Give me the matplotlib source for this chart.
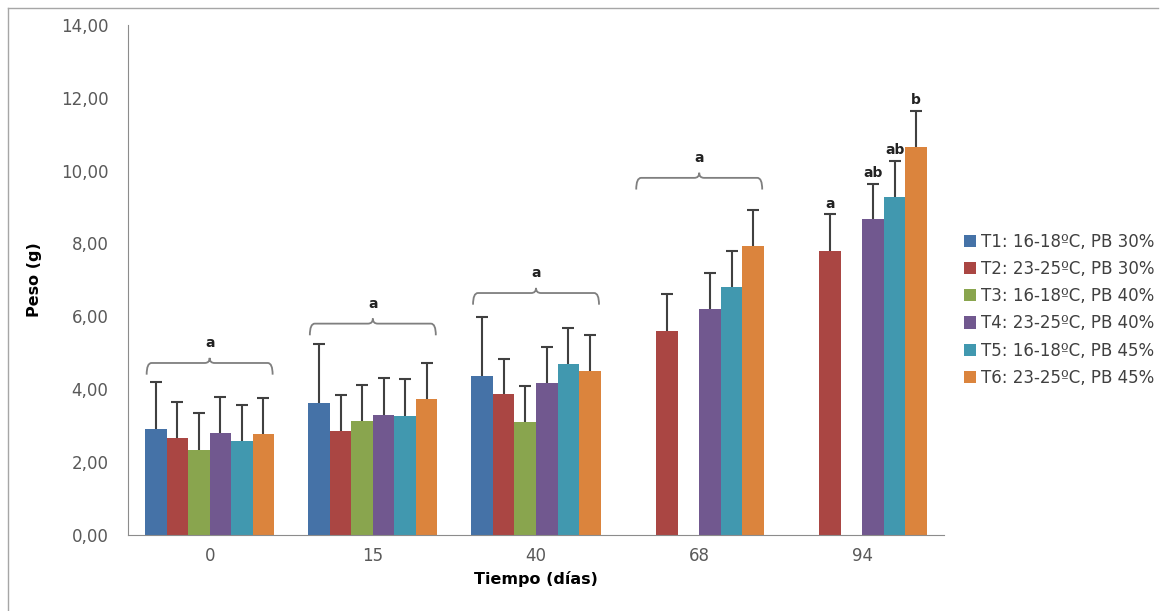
import numpy as np
import matplotlib.pyplot as plt
from matplotlib.path import Path
from matplotlib.patches import PathPatch
from matplotlib.lines import Line2D
from matplotlib.ticker import FuncFormatter

dias = ["0", "15", "40", "68", "94"]
tratamientos = ["T1: 16-18ºC, PB 30%", "T2: 23-25ºC, PB 30%", "T3: 16-18ºC, PB 40%",
                "T4: 23-25ºC, PB 40%", "T5: 16-18ºC, PB 45%", "T6: 23-25ºC, PB 45%"]
colores = ["#4572A7", "#AA4643", "#89A54E", "#71588F", "#4198AF", "#DB843D"]

nan = np.nan
peso = [
    [2.91, 3.63, 4.37, nan, nan],
    [2.67, 2.84, 3.87, 5.59, 7.78],
    [2.33, 3.12, 3.10, nan, nan],
    [2.81, 3.30, 4.17, 6.21, 8.67],
    [2.58, 3.27, 4.69, 6.80, 9.27],
    [2.78, 3.73, 4.49, 7.94, 10.66],
]
desv = [
    [1.28, 1.61, 1.62, nan, nan],
    [0.99, 1.01, 0.97, 1.01, 1.02],
    [1.01, 0.99, 0.99, nan, nan],
    [0.99, 1.01, 0.99, 0.98, 0.96],
    [0.98, 1.02, 0.98, 0.98, 0.99],
    [0.99, 1.00, 1.00, 0.98, 0.98],
]

# llaves con letra encima (grupos 0, 15, 40, 68)
llave_grupo = [0, 1, 2, 3]
llave_altura = [4.72, 5.80, 6.64, 9.80]
llave_letra = ["a", "a", "a", "a"]

# letras sobre barras del dia 94
letras_94 = [None, "a", None, "ab", "ab", "b"]

fig = plt.figure(figsize=(11.64, 6.11), dpi=100)
ax = fig.add_axes([0.110, 0.1244, 0.701, 0.835])

x = np.arange(len(dias))
ancho = 0.132
for i in range(6):
    pos = x + (i - 2.5) * ancho
    ax.bar(pos, peso[i], ancho, color=colores[i], label=tratamientos[i], zorder=2)
    eb = ax.errorbar(pos, peso[i], yerr=[np.zeros(5), desv[i]], fmt="none",
                     ecolor="#404040", elinewidth=1.5, capsize=4, capthick=1.5, zorder=3)
    eb[1][0].set_visible(False)  # sin tope inferior

# llaves
for g, h, txt in zip(llave_grupo, llave_altura, llave_letra):
    x0 = g - 3 * ancho + 0.01
    x1 = g + 3 * ancho - 0.01
    xm = g
    d = 0.32   # caida de los extremos
    p = 0.14   # pico central
    r = 0.03
    verts = [(x0, h - d), (x0, h), (x0 + r, h),
             (xm - r, h), (xm, h), (xm, h + p),
             (xm, h), (xm + r, h), (x1 - r, h),
             (x1, h), (x1, h - d)]
    codes = [Path.MOVETO, Path.CURVE3, Path.CURVE3,
             Path.LINETO, Path.CURVE3, Path.CURVE3,
             Path.CURVE3, Path.CURVE3, Path.LINETO,
             Path.CURVE3, Path.CURVE3]
    ax.add_patch(PathPatch(Path(verts, codes), fill=False, edgecolor="#7f7f7f", lw=1.3, zorder=3))
    ax.text(xm, h + 0.55, txt, ha="center", va="center", fontsize=10, fontweight="bold", color="#222222")

for i, l in enumerate(letras_94):
    if l:
        ax.text(4 + (i - 2.5) * ancho, peso[i][4] + desv[i][4] + 0.1, l, ha="center", va="bottom",
                fontsize=10, fontweight="bold", color="#222222")

ax.set_xlim(-0.5, 4.5)
ax.set_ylim(0, 14)
ax.set_yticks(np.arange(0, 15, 2))
ax.yaxis.set_major_formatter(FuncFormatter(lambda v, _: f"{v:.2f}".replace(".", ",")))
ax.set_xticks(x)
ax.set_xticklabels(dias)
ax.tick_params(length=0, labelsize=12, labelcolor="#595959", pad=9)
ax.tick_params(axis="y", pad=14)
for s in ["top", "right"]:
    ax.spines[s].set_visible(False)
for s in ["left", "bottom"]:
    ax.spines[s].set_color("#8c8c8c")
ax.set_xlabel("Tiempo (días)", fontsize=11.5, fontweight="bold", labelpad=4)
ax.set_ylabel("Peso (g)", fontsize=11.5, fontweight="bold", labelpad=14)

fig.legend(loc="center left", bbox_to_anchor=(0.815, 0.493), frameon=False, fontsize=12,
           handlelength=0.75, handleheight=0.75, handletextpad=0.3, labelspacing=0.55,
           labelcolor="#404040")

# marco del grafico
fig.add_artist(Line2D([8 / 1164, 8 / 1164], [0, 1 - 8 / 611], color="#a6a6a6", lw=1))
fig.add_artist(Line2D([8 / 1164, 1158 / 1164], [1 - 8 / 611, 1 - 8 / 611], color="#a6a6a6", lw=1))

plt.savefig("out.png", dpi=100)
